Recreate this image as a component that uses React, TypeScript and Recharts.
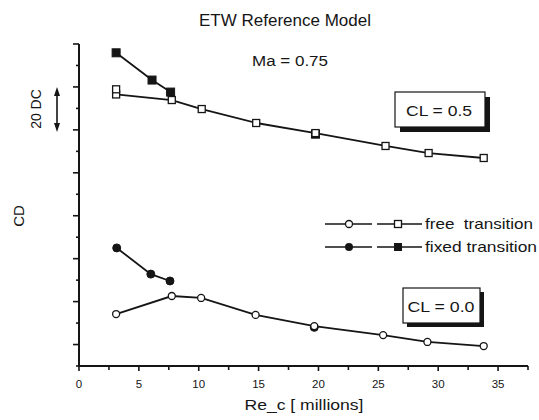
import React from 'react';
import { ComposedChart, Line, XAxis, YAxis, Legend } from 'recharts';

// Re_c [millions] vs CD (in units of 10 drag counts, axis unlabeled)
const freeCL05 = [
  { re: 3.1, cd: 12.65 }, { re: 7.75, cd: 12.39 }, { re: 10.25, cd: 11.97 }, { re: 14.8, cd: 11.32 },
  { re: 19.75, cd: 10.85 }, { re: 25.6, cd: 10.25 }, { re: 29.2, cd: 9.92 }, { re: 33.8, cd: 9.69 },
];
const freeCL05Extra = [{ re: 3.1, cd: 12.89 }];
const fixedCL05 = [{ re: 3.1, cd: 14.59 }, { re: 6.1, cd: 13.32 }, { re: 7.65, cd: 12.76 }];
const fixedCL05Extra = [{ re: 19.75, cd: 10.8 }];
const freeCL00 = [
  { re: 3.1, cd: 2.42 }, { re: 7.75, cd: 3.26 }, { re: 10.2, cd: 3.17 }, { re: 14.75, cd: 2.38 },
  { re: 19.65, cd: 1.86 }, { re: 25.4, cd: 1.44 }, { re: 29.1, cd: 1.12 }, { re: 33.8, cd: 0.93 },
];
const fixedCL00 = [{ re: 3.15, cd: 5.5 }, { re: 6.0, cd: 4.28 }, { re: 7.6, cd: 3.96 }];
const fixedCL00Extra = [{ re: 19.65, cd: 1.8 }];

const xTicks = [0, 2.5, 5, 7.5, 10, 12.5, 15, 17.5, 20, 22.5, 25, 27.5, 30, 32.5, 35, 37.5];
const xLabels = [0, 5, 10, 15, 20, 25, 30, 35];
const yTicks = [0, 1, 2, 3, 4, 5, 6, 7, 8, 9, 10, 11, 12, 13, 14, 15];

const INK = '#151515';
const FONT = '"Liberation Sans", Arial, Helvetica, sans-serif';

const openSquare = (p: any) => (
  <rect key={`os-${p.index}-${p.cx}`} x={p.cx - 3.5} y={p.cy - 3.5} width={7} height={7} fill="#fff" stroke={INK} strokeWidth={1.3} />
);
const filledSquare = (p: any) => (
  <rect key={`fs-${p.index}-${p.cx}`} x={p.cx - 4} y={p.cy - 4} width={8} height={8} fill={INK} stroke={INK} strokeWidth={1} />
);
const openCircle = (p: any) => (
  <circle key={`oc-${p.index}-${p.cx}`} cx={p.cx} cy={p.cy} r={3.5} fill="#fff" stroke={INK} strokeWidth={1.3} />
);
const filledCircle = (p: any) => (
  <circle key={`fc-${p.index}-${p.cx}`} cx={p.cx} cy={p.cy} r={4} fill={INK} stroke={INK} strokeWidth={1} />
);

const XTick = (props: any) => {
  const { x, y, payload } = props;
  const v = payload.value;
  const major = v % 5 === 0;
  return (
    <g>
      <line x1={x} x2={x} y1={y} y2={y + (major ? 5 : 4)} stroke={INK} strokeWidth={1.6} />
      {major && xLabels.includes(v) ? (
        <text x={x} y={y + 22} textAnchor="middle" fontSize={11.5} fontFamily={FONT} fill={INK}>
          {v}
        </text>
      ) : null}
    </g>
  );
};

const YTick = (props: any) => {
  const { x, y, payload } = props;
  const major = payload.value % 2 === 1;
  return <line x1={x} x2={x - (major ? 6 : 3)} y1={y} y2={y} stroke={INK} strokeWidth={1.6} />;
};

const LegendContent = () => (
  <svg width={219} height={50} style={{ display: 'block', overflow: 'visible' }}>
    <g stroke={INK} strokeWidth={1.7}>
      <line x1={5} x2={52} y1={14} y2={14} />
      <line x1={57} x2={102} y1={14} y2={14} />
      <line x1={5} x2={52} y1={37} y2={37} />
      <line x1={57} x2={102} y1={37} y2={37} />
    </g>
    <circle cx={29} cy={14} r={3.5} fill="#fff" stroke={INK} strokeWidth={1.3} />
    <rect x={74.5} y={10.5} width={7} height={7} fill="#fff" stroke={INK} strokeWidth={1.3} />
    <circle cx={29} cy={37} r={4} fill={INK} />
    <rect x={74} y={33} width={8} height={8} fill={INK} />
    <text x={105} y={18.5} fontSize={15} fontFamily={FONT} fill={INK} textLength={108} lengthAdjust="spacingAndGlyphs" style={{ whiteSpace: 'pre' }}>
      {'free  transition'}
    </text>
    <text x={105} y={41.5} fontSize={15} fontFamily={FONT} fill={INK} textLength={112} lengthAdjust="spacingAndGlyphs">
      fixed transition
    </text>
  </svg>
);

const Overlay = () => (
  <svg width={539} height={420} style={{ position: 'absolute', left: 0, top: 0, pointerEvents: 'none' }}>
    <text x={285} y={26} textAnchor="middle" fontSize={16} fontFamily={FONT} fill={INK} textLength={172} lengthAdjust="spacingAndGlyphs">
      ETW Reference Model
    </text>
    <text x={290} y={66} textAnchor="middle" fontSize={15.5} fontFamily={FONT} fill={INK} textLength={76} lengthAdjust="spacingAndGlyphs">
      Ma = 0.75
    </text>
    <text transform="translate(41,109) rotate(-90)" textAnchor="middle" fontSize={14} fontFamily={FONT} fill={INK}>
      20 DC
    </text>
    <line x1={57} x2={57} y1={93} y2={126} stroke={INK} strokeWidth={1.6} />
    <polygon points="57,87 54,96 60,96" fill={INK} />
    <polygon points="57,132 54,123 60,123" fill={INK} />
    <text transform="translate(24,216) rotate(-90)" textAnchor="middle" fontSize={15} fontFamily={FONT} fill={INK}>
      CD
    </text>
    <text x={304} y={410} textAnchor="middle" fontSize={15} fontFamily={FONT} fill={INK} textLength={119} lengthAdjust="spacingAndGlyphs">
      Re_c [ millions]
    </text>
    {/* CL = 0.5 box */}
    <rect x={400} y={97} width={90} height={35} fill={INK} />
    <rect x={395} y={92} width={90} height={35} fill="#fff" stroke={INK} strokeWidth={1.2} />
    <text x={439} y={116} textAnchor="middle" fontSize={15} fontFamily={FONT} fill={INK} textLength={66} lengthAdjust="spacingAndGlyphs">
      CL = 0.5
    </text>
    {/* CL = 0.0 box */}
    <rect x={407} y={292} width={77} height={35} fill={INK} />
    <rect x={403} y={288} width={77} height={35} fill="#fff" stroke={INK} strokeWidth={1.2} />
    <text x={441} y={312} textAnchor="middle" fontSize={15} fontFamily={FONT} fill={INK} textLength={67} lengthAdjust="spacingAndGlyphs">
      CL = 0.0
    </text>
  </svg>
);

export default function App() {
  const common = {
    type: 'linear' as const,
    dataKey: 'cd',
    stroke: INK,
    strokeWidth: 1.8,
    isAnimationActive: false,
    activeDot: false as const,
    legendType: 'none' as const,
  };
  return (
    <div style={{ position: 'absolute', left: 0, top: 0, width: 539, height: 420, background: '#fff' }}>
      <ComposedChart width={539} height={420} margin={{ top: 44, right: 11, bottom: 0, left: 0 }}>
        <XAxis
          type="number"
          dataKey="re"
          domain={[0, 37.5]}
          ticks={xTicks}
          interval={0}
          allowDataOverflow
          height={54}
          tickSize={0}
          tickMargin={0}
          tickLine={false}
          tick={<XTick />}
          axisLine={{ stroke: INK, strokeWidth: 2 }}
        />
        <YAxis
          type="number"
          domain={[0, 15]}
          ticks={yTicks}
          interval={0}
          width={79}
          tickSize={0}
          tickMargin={0}
          tickLine={false}
          tick={<YTick />}
          axisLine={{ stroke: INK, strokeWidth: 2 }}
        />
        <Line {...common} data={fixedCL05Extra} stroke="none" dot={filledSquare} name="fixed CL0.5 b" />
        <Line {...common} data={fixedCL00Extra} stroke="none" dot={filledCircle} name="fixed CL0 b" />
        <Line {...common} data={fixedCL05} dot={filledSquare} name="fixed CL0.5" />
        <Line {...common} data={freeCL05} dot={openSquare} name="free CL0.5" />
        <Line {...common} data={freeCL05Extra} stroke="none" dot={openSquare} name="free CL0.5 b" />
        <Line {...common} data={fixedCL00} dot={filledCircle} name="fixed CL0" />
        <Line {...common} data={freeCL00} dot={openCircle} name="free CL0" />
        <Legend
          layout="horizontal"
          verticalAlign="middle"
          align="center"
          content={<LegendContent />}
          wrapperStyle={{ left: 320, top: 210, width: 219, height: 50 }}
        />
      </ComposedChart>
      <Overlay />
    </div>
  );
}
